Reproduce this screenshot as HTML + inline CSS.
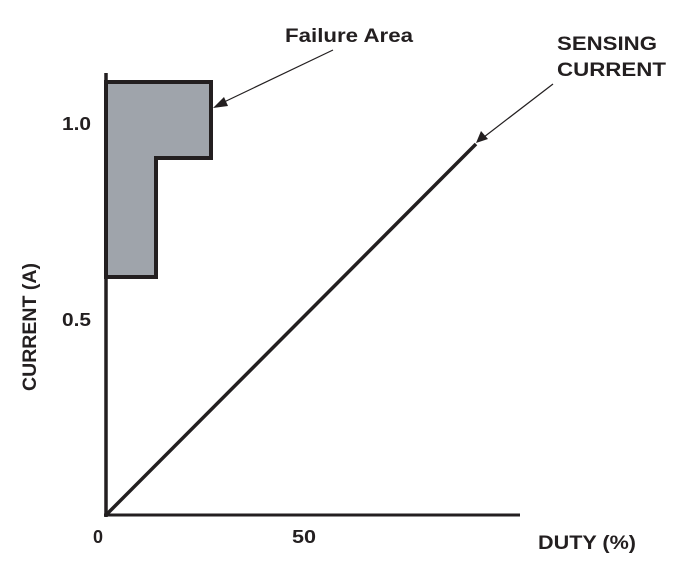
<!DOCTYPE html><html><head><style>body{margin:0;background:#fff}</style></head><body>
<svg width="676" height="576" xmlns="http://www.w3.org/2000/svg" font-family="Liberation Sans, sans-serif" font-weight="bold" fill="#231f20">
<polygon points="106,82 211,82 211,158 156,158 156,277 106,277" fill="#9fa4ab" stroke="#231f20" stroke-width="4"/>
<line x1="106" y1="73" x2="106" y2="517" stroke="#231f20" stroke-width="3.5"/>
<line x1="104" y1="515" x2="520" y2="515" stroke="#231f20" stroke-width="3"/>
<line x1="106" y1="515" x2="476" y2="144" stroke="#231f20" stroke-width="3.5"/>
<line x1="333" y1="50" x2="222" y2="103" stroke="#231f20" stroke-width="1.2"/>
<polygon points="213,108 224,97 228,106" fill="#231f20"/>
<line x1="553" y1="84" x2="484" y2="137" stroke="#231f20" stroke-width="1.2"/>
<polygon points="476,143 481,131 488,139" fill="#231f20"/>
<text x="285" y="42" font-size="19" textLength="128" lengthAdjust="spacingAndGlyphs">Failure Area</text>
<text x="557" y="50" font-size="19" textLength="100" lengthAdjust="spacingAndGlyphs">SENSING</text>
<text x="557" y="76" font-size="19" textLength="109" lengthAdjust="spacingAndGlyphs">CURRENT</text>
<text x="62" y="130" font-size="18" textLength="29" lengthAdjust="spacingAndGlyphs">1.0</text>
<text x="62" y="326" font-size="18" textLength="29" lengthAdjust="spacingAndGlyphs">0.5</text>
<text x="93" y="543" font-size="18">0</text>
<text x="292" y="543" font-size="18" textLength="24" lengthAdjust="spacingAndGlyphs">50</text>
<text x="538" y="549" font-size="19" textLength="98" lengthAdjust="spacingAndGlyphs">DUTY (%)</text>
<text transform="translate(36,391) rotate(-90)" font-size="19" textLength="128" lengthAdjust="spacingAndGlyphs">CURRENT (A)</text>
</svg></body></html>
